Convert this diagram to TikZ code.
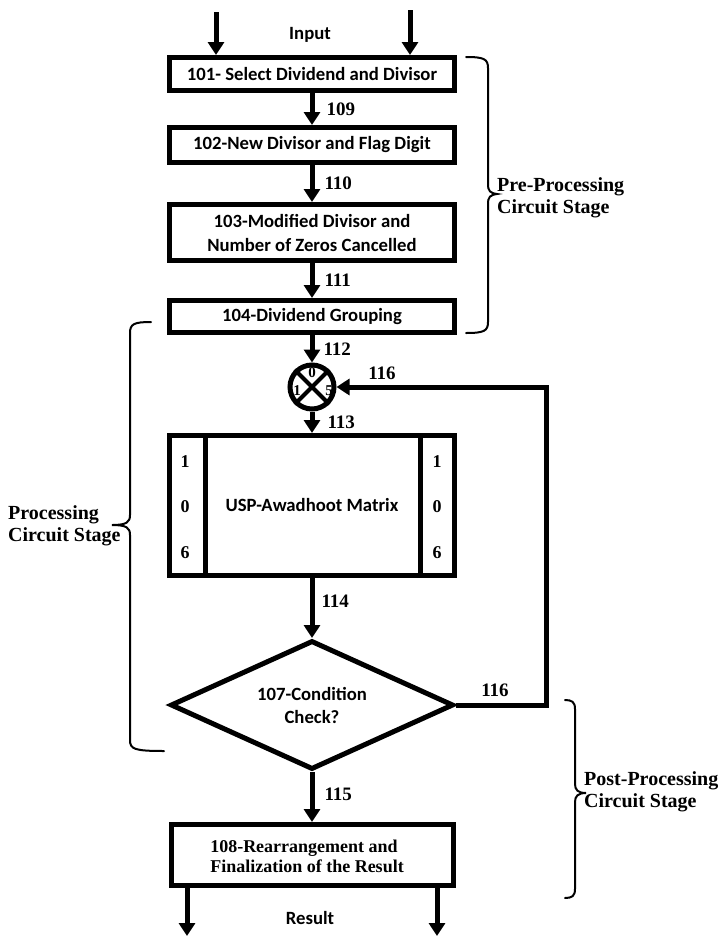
\documentclass[tikz,border=0pt]{standalone}
\usepackage{fontspec}
\setmainfont{Liberation Serif}
\newfontfamily\calfont{Carlito}
\usetikzlibrary{arrows.meta,shapes.geometric,calc}

\tikzset{
  box/.style={draw, line width=5pt, inner sep=0pt, minimum width=285pt,
    font=\calfont\bfseries\fontsize{18.7}{24}\selectfont, align=center},
  flow/.style={line width=5pt, -{Triangle[width=16pt,length=13pt]}},
  num/.style={font=\bfseries\fontsize{19}{22}\selectfont, inner sep=0pt, anchor=west},
  small/.style={font=\bfseries\fontsize{15}{16}\selectfont, inner sep=0pt},
  plain/.style={font=\calfont\bfseries\fontsize{18.7}{22}\selectfont, inner sep=0pt},
  stage/.style={font=\bfseries\fontsize{20}{22}\selectfont, align=left, inner sep=0pt},
  brace/.style={line width=2pt, line cap=round},
}

\begin{document}
\begin{tikzpicture}[x=1pt, y=-1pt]
\useasboundingbox (0,0) rectangle (728,937);

% pre-processing blocks
\node[box, minimum height=33pt] (b101) at (312,74) {101- Select Dividend and Divisor};
\node[box, minimum height=35pt] (b102) at (312,145) {102-New Divisor and Flag Digit};
\node[box, minimum height=56pt] (b103) at (312,232.5) {103-Modified Divisor and\\Number of Zeros Cancelled};
\node[box, minimum height=32pt] (b104) at (312,316.5) {104-Dividend Grouping};

% multiplexer
\node[circle, draw, line width=5pt, minimum size=44pt, inner sep=0pt] (mux) at (312,387) {};
\draw[line width=4pt] (mux.45) -- (mux.225);
\draw[line width=4pt] (mux.135) -- (mux.315);
\node[small] (m0) at (312,373) {0};
\node[small] (m1) at (297,391) {1};
\node[small] (m5) at (329,391) {5};

% matrix block with side columns
\node[box, minimum height=140pt] (mat) at (312,505.5) {USP-Awadhoot Matrix};
\draw[line width=5pt] ($(mat.north west)+(38,0)$) -- ($(mat.south west)+(38,0)$);
\draw[line width=5pt] ($(mat.north east)+(-37,0)$) -- ($(mat.south east)+(-37,0)$);
\foreach \d/\yy in {1/462,0/507,6/553}{
  \node[font=\bfseries\fontsize{18}{20}\selectfont, inner sep=0pt] at (185,\yy) {\d};
  \node[font=\bfseries\fontsize{18}{20}\selectfont, inner sep=0pt] at (437,\yy) {\d};
}

% decision
\node[draw, diamond, aspect=2.15, line width=5pt, minimum width=283pt, minimum height=129pt,
  inner sep=0pt, font=\calfont\bfseries\fontsize{18.7}{23}\selectfont, align=center] (cond) at (312,705) {107-Condition\\Check?};

% post-processing block
\node[box, minimum width=282pt, minimum height=61pt] (b108) at (312,855) {};
\node[font=\bfseries\fontsize{18}{20}\selectfont, align=left, inner sep=0pt] (t108) at (307,856)
  {108-Rearrangement and\\Finalization of the Result};

% inputs and outputs
\coordinate (inL) at (216,12);
\coordinate (inR) at (410,10);
\coordinate (outL) at (187,936);
\coordinate (outR) at (437,936);
\node[plain] (input) at (310,35) {Input};
\node[plain] (result) at (310,918) {Result};
\draw[flow] (inL) -- (inL |- b101.north);
\draw[flow] (inR) -- (inR |- b101.north);
\draw[flow] (outL |- b108.south) -- (outL);
\draw[flow] (outR |- b108.south) -- (outR);

% main flow
\draw[flow] (b101) -- node[num, xshift=12pt] {109} (b102);
\draw[flow] (b102) -- node[num, xshift=10pt] {110} (b103);
\draw[flow] (b103) -- node[num, xshift=10pt] {111} (b104);
\draw[flow] (b104) -- node[num, xshift=9pt] {112} (mux);
\draw[flow] (mux) -- node[num, xshift=13pt] {113} (mat);
\draw[flow] (mat) -- node[num, xshift=7pt, yshift=7pt] {114} (cond);
\draw[flow] (cond) -- node[num, xshift=10pt, yshift=3pt] {115} (b108);

% feedback loop
\coordinate (fb) at (546,705);
\draw[flow, line join=miter] (cond.east) -- (fb) |- (mux.east);
\node[num, anchor=center] (l116a) at (382,373) {116};
\node[num, anchor=center] (l116b) at (495,690) {116};

% stage braces
\draw[brace] (466,57) .. controls (484,57) and (488,59) .. (488,68) -- (488,184)
  .. controls (488,191) and (490,193) .. (497,194) .. controls (490,195) and (488,197) .. (488,204)
  -- (488,322) .. controls (488,331) and (484,333) .. (466,333);
\node[stage, anchor=west] (pre) at (497,198) {Pre-Processing\\Circuit Stage};

\draw[brace] (151,322) .. controls (134,322) and (130,324) .. (130,333) -- (130,515)
  .. controls (130,522) and (127,525) .. (112,525) .. controls (127,525) and (130,528) .. (130,535)
  -- (130,740) .. controls (130,749) and (134,751) .. (164,751);
\node[stage, anchor=west] (proc) at (8,526) {Processing\\Circuit Stage};

\draw[brace] (565,700) .. controls (572,700) and (575,702) .. (575,709) -- (575,784)
  .. controls (575,790) and (578,793) .. (586,793) .. controls (578,793) and (575,796) .. (575,802)
  -- (575,889) .. controls (575,896) and (572,898) .. (565,898);
\node[stage, anchor=west] (post) at (584,792) {Post-Processing\\Circuit Stage};

\end{tikzpicture}
\end{document}
